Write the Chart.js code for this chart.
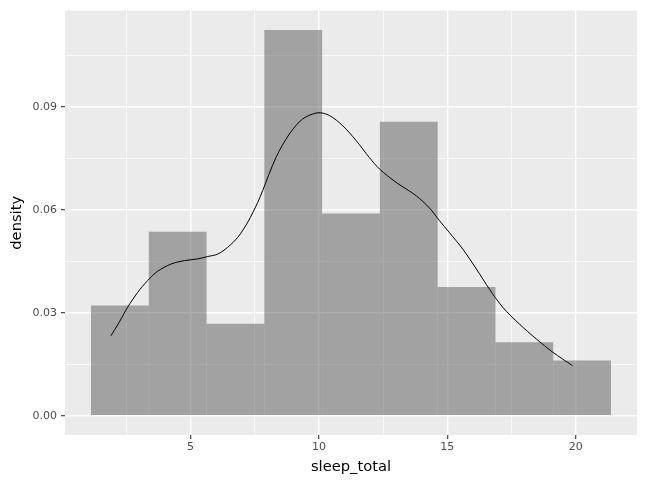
<!DOCTYPE html>
<html>
<head>
<meta charset="utf-8">
<script src="https://cdn.jsdelivr.net/npm/chart.js@4.4.1/dist/chart.umd.min.js"></script>
<style>
  body { margin: 0; background: #fff; }
  canvas { display: block; }
</style>
</head>
<body>
<canvas id="canvas1" width="647" height="487"></canvas>
<script>
// histogram bins (centres, width 2.25) and their density
const binCenters = [2.25, 4.5, 6.75, 9, 11.25, 13.5, 15.75, 18, 20.25];
const binDensity = [0.0321, 0.0536, 0.0268, 0.1124, 0.0589, 0.0857, 0.0375, 0.0214, 0.0161];

// kernel density curve
const densityX = [1.9, 2.22, 2.55, 2.94, 3.33, 3.72, 4.24, 4.76, 5.28, 5.67, 6.06, 6.45, 6.84,
  7.23, 7.62, 7.81, 8.33, 8.85, 9.37, 9.96, 10.41, 10.93, 11.45, 11.96, 12.36, 13.01, 13.79,
  14.31, 14.69, 15.09, 15.6, 16.13, 16.64, 17.16, 17.81, 18.46, 19.11, 19.87];
const densityY = [0.0233, 0.0272, 0.0316, 0.0359, 0.0394, 0.0421, 0.0442, 0.0452, 0.0457, 0.0464,
  0.0471, 0.0491, 0.0520, 0.0564, 0.0622, 0.0656, 0.0753, 0.0821, 0.0865, 0.0883, 0.0875,
  0.0845, 0.0802, 0.0753, 0.0719, 0.0680, 0.0641, 0.0605, 0.0569, 0.0533, 0.0486, 0.0428,
  0.0369, 0.0316, 0.0267, 0.0224, 0.0185, 0.0146];

const xMajor = [5, 10, 15, 20];
const xMajorLabels = ["5", "10", "15", "20"];
const xMinor = [2.5, 7.5, 12.5, 17.5];
const yMajor = [0, 0.03, 0.06, 0.09];
const yMajorLabels = ["0.00", "0.03", "0.06", "0.09"];
const yMinor = [0.015, 0.045, 0.075, 0.105];

const xTitle = "sleep_total";
const yTitle = "density";

const fontFamily = "'DejaVu Sans', sans-serif";

const panelBg = {
  id: "panelBg",
  beforeDraw(chart) {
    const a = chart.chartArea;
    const ctx = chart.ctx;
    ctx.save();
    ctx.fillStyle = "#EBEBEB";
    ctx.fillRect(a.left, a.top, a.right - a.left, a.bottom - a.top);
    ctx.restore();
  }
};

function isMajor(list, c) {
  if (!c || !c.tick) return true;
  return list.some(m => Math.abs(m - c.tick.value) < 1e-9);
}

function axisOptions(major, labels, minor, min, max, title, horizontal) {
  return {
    type: "linear",
    min: min,
    max: max,
    offset: false,
    afterBuildTicks: scale => {
      scale.ticks = major.concat(minor).sort((a, b) => a - b).map(v => ({ value: v }));
    },
    afterFit: scale => {
      if (horizontal) scale.height = 52;
      else scale.width = 65;
    },
    border: { display: false },
    grid: {
      offset: false,
      color: "#FFFFFF",
      lineWidth: c => (isMajor(major, c) ? 1.4 : 0.7),
      drawTicks: true,
      tickLength: 4,
      tickWidth: 1.1,
      tickColor: c => (isMajor(major, c) ? "#333333" : "rgba(0,0,0,0)")
    },
    ticks: {
      autoSkip: false,
      maxRotation: 0,
      padding: horizontal ? 2 : 4,
      color: "#4D4D4D",
      font: { family: fontFamily, size: 11 },
      callback: value => {
        const i = major.findIndex(m => Math.abs(m - value) < 1e-9);
        return i >= 0 ? labels[i] : "";
      }
    },
    title: {
      display: true,
      text: title,
      color: "#000000",
      font: { family: fontFamily, size: 14.7, lineHeight: 1.2 },
      padding: horizontal ? { top: 0, bottom: 11 } : { top: 8, bottom: 0 }
    }
  };
}

window.onload = function() {
  const ctx1 = document.getElementById("canvas1").getContext("2d");
  new Chart(ctx1, {
    data: {
      datasets: [
        {
          type: "line",
          label: "density",
          data: densityX.map((x, i) => ({ x: x, y: densityY[i] })),
          borderColor: "#000000",
          borderWidth: 1,
          pointRadius: 0,
          fill: false,
          tension: 0.3,
          order: 0
        },
        {
          type: "bar",
          label: "count",
          data: binCenters.map((x, i) => ({ x: x, y: binDensity[i] })),
          backgroundColor: "rgba(89,89,89,0.5)",
          borderWidth: 0,
          inflateAmount: 0,
          barPercentage: 1,
          categoryPercentage: 1,
          order: 1
        }
      ]
    },
    options: {
      responsive: false,
      animation: false,
      events: [],
      layout: { padding: { left: 0, right: 10, top: 10, bottom: 0 } },
      plugins: {
        legend: { display: false },
        tooltip: { enabled: false }
      },
      scales: {
        x: axisOptions(xMajor, xMajorLabels, xMinor, 0.1125, 22.3875, xTitle, true),
        y: axisOptions(yMajor, yMajorLabels, yMinor, -0.00562, 0.11807, yTitle, false)
      }
    },
    plugins: [panelBg]
  });
};
</script>
</body>
</html>
